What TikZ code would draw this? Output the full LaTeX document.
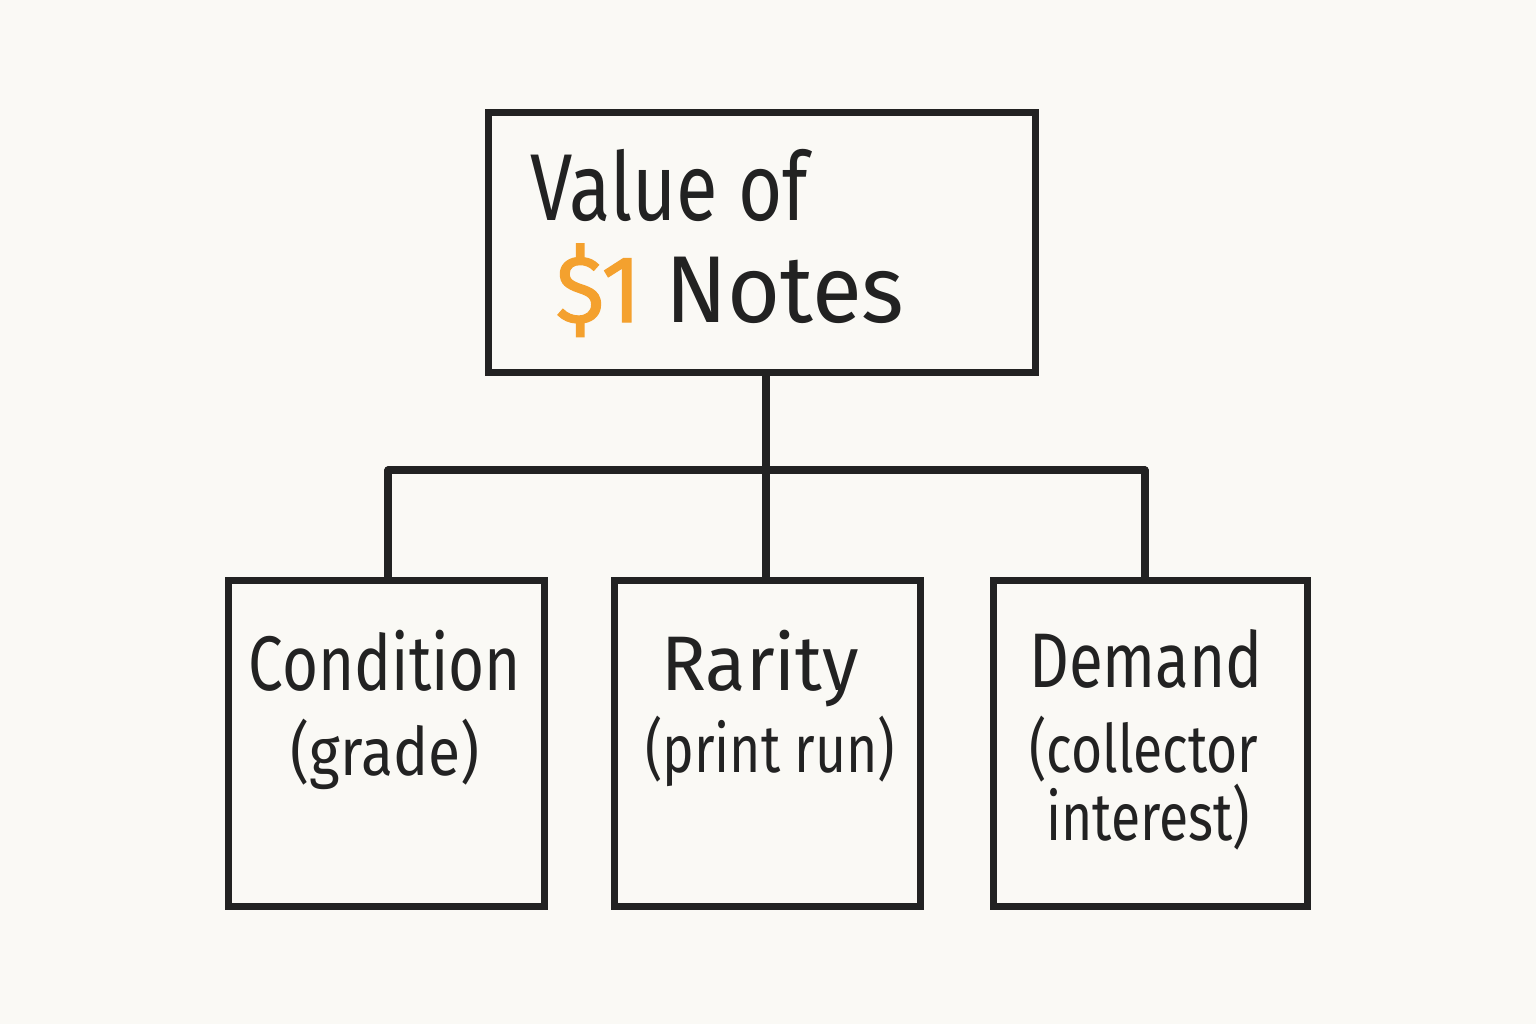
\documentclass[tikz,border=0pt]{standalone}
\usepackage{fontspec}
\usepackage{graphicx}
\setmainfont[FakeStretch=0.8]{Fira Sans}
\definecolor{bg}{HTML}{FAF9F5}
\definecolor{ink}{HTML}{222222}
\definecolor{gold}{HTML}{F4A12E}
\begin{document}
\begin{tikzpicture}[x=0.01cm,y=-0.01cm,
  box/.style={draw=ink,line width=2pt,rectangle,inner sep=0pt,anchor=north west},
  conn/.style={draw=ink,line width=2pt,line cap=round,line join=round},
  lbl/.style={text=ink,inner sep=0pt,anchor=base,font=\fontsize{22}{26}\selectfont},
  sub/.style={text=ink,inner sep=0pt,anchor=base,font=\fontsize{19}{23}\selectfont},
  ttl/.style={text=ink,inner sep=0pt,anchor=base west,font=\fontsize{27}{32}\selectfont}]
\fill[bg] (0,0) rectangle (1536,1024);
\useasboundingbox (0,0) rectangle (1536,1024);
% boxes
\node[box,minimum width=5.47cm,minimum height=2.60cm] (top) at (485,109) {};
\node[box,minimum width=3.16cm,minimum height=3.26cm] (b1) at (225,577) {};
\node[box,minimum width=3.06cm,minimum height=3.26cm] (b2) at (611,577) {};
\node[box,minimum width=3.14cm,minimum height=3.26cm] (b3) at (990,577) {};
% title
\node[ttl] (t1) at (530,220) {Value of};
\node[ttl] (t2) at (555,322) {\scalebox{1.2}[1]{\textcolor{gold}{\addfontfeature{FakeBold=1.2}\$1}~Notes}};
% labels
\node[lbl] (c1) at (385,690) {Condition};
\node[sub] (c2) at (385,775) {\scalebox{1.1}[1]{(grade)}};
\node[lbl] (r1) at (760,690) {\scalebox{1.2}[1]{Rarity}};
\node[sub] (r2) at (770,772) {(print run)};
\node[lbl] (d1) at (1146,687) {Demand};
\node[sub] (d2) at (1144,772) {(collector};
\node[sub] (d3) at (1148,840) {interest)};
% connectors
\coordinate (j) at (766,470);
\coordinate (jl) at (388,470);
\coordinate (jr) at (1145,470);
\draw[conn] (top.south -| j) -- (j);
\draw[conn] (jl) -- (jr);
\draw[conn] (jl) -- (jl |- b1.north);
\draw[conn] (j) -- (j |- b2.north);
\draw[conn] (jr) -- (jr |- b3.north);
\end{tikzpicture}
\end{document}
